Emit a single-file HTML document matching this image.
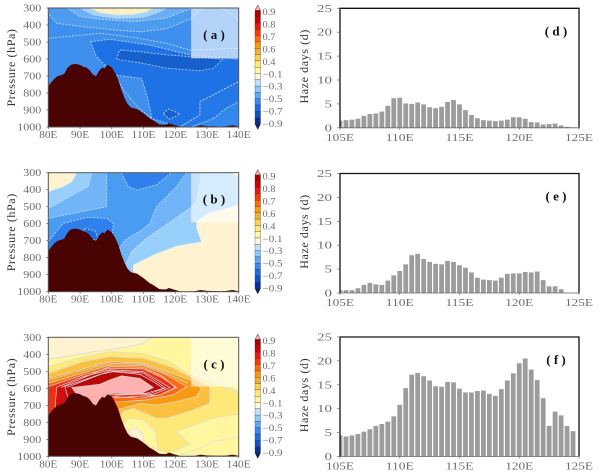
<!DOCTYPE html>
<html>
<head>
<meta charset="utf-8">
<title>Pressure cross-sections and haze days</title>
<style>
html,body{margin:0;padding:0;background:#fff;width:600px;height:475px;overflow:hidden}
svg{display:block;filter:blur(0.3px)}
text{font-family:"Liberation Serif",serif;fill:#6c6c6c}
.ttl{font-family:"Liberation Serif",serif;fill:#333;font-size:12px;letter-spacing:.6px}
.tag{font-family:"Liberation Serif",serif;fill:#111;font-size:13px;font-weight:bold}
</style>
</head>
<body>
<svg id="chart" xmlns="http://www.w3.org/2000/svg" width="600" height="475" viewBox="0 0 600 475"></svg>
<script>
const pressureTicks = [300,400,500,600,700,800,900,1000];
const lonTicksLeft = [80,90,100,110,120,130,140];
const lonTicksRight = [105,110,115,120,125];
const hazeTicks = [0,5,10,15,20,25];
const barLons = [105,105.5,106,106.5,107,107.5,108,108.5,109,109.5,110,110.5,111,111.5,112,112.5,113,113.5,114,114.5,115,115.5,116,116.5,117,117.5,118,118.5,119,119.5,120,120.5,121,121.5,122,122.5,123,123.5,124,124.5];
const hazeD = [1.5,1.6,1.7,1.9,2.5,2.9,3.0,3.4,4.6,6.2,6.3,5.1,5.0,5.3,4.9,4.3,4.1,4.4,5.4,5.8,4.9,3.7,2.7,2.0,1.6,1.5,1.4,1.5,1.7,2.2,2.2,1.9,1.2,1.1,0.7,0.8,0.9,0.5,0.2,0.1];
const hazeE = [0.6,0.6,0.6,1.0,1.7,2.1,1.8,1.7,2.6,3.7,4.6,6.0,7.9,8.2,7.1,6.5,6.1,6.0,6.7,6.5,5.8,5.3,4.3,3.2,2.8,2.7,2.6,3.2,4.0,4.1,4.1,4.4,4.3,4.5,2.7,1.4,1.4,0.8,0.1,0];
const hazeF = [4.4,4.2,4.4,4.7,5.2,5.7,6.4,6.8,7.3,8.4,10.8,14.3,17.1,17.5,16.8,15.9,14.7,14.6,15.6,15.5,14.2,13.4,13.4,13.7,13.8,13.1,12.7,14.1,15.9,17.4,19.5,20.5,18.2,16.0,12.2,6.4,9.4,8.6,6.4,5.3];
const colorbarLabels = ["0.9","0.8","0.7","0.6","0.4","\u22120.1","\u22120.3","\u22120.5","\u22120.7","\u22120.9"];
const colorbarColors = ["#a80000","#cc0000","#e81810","#f83808","#ff6a08","#fb9a08","#f0b030","#fbd050","#fde878","#fff7a0","#fdf8e0","#bfe0ff","#8cc8fa","#5ca8f5","#3888ee","#1c6ce4","#1050c8","#083098"];
const terrain = [[80,760],[81,735],[82,715],[83,700],[84,695],[85,688],[86,655],[87,635],[88,630],[89,630],[90,635],[91,645],[92,650],[93,665],[94,690],[95,702],[96,670],[97,650],[97.7,656],[98.7,635],[100,650],[101,680],[102,720],[103,780],[104,830],[105,865],[106,885],[108,895],[110,920],[112,950],[113,960],[115,985],[117,987],[118,978],[120,990],[122,1000],[126,998],[128,990],[130,995],[132,996],[134,997],[136,996],[138,990],[140,997],[140,1000],[80,1000]];

const regionsA = [
 {fill:"#4e9cf0",pts:[[80,300],[80,331],[82.6,390],[91,410],[101.5,430],[109,440],[117.3,422],[124.6,365],[128.8,300]]},
 {fill:"#6aaef5",pts:[[86,300],[90,350],[96,365],[107,380],[117,360],[124,310],[125,300]]},
 {fill:"#a4d4fb",pts:[[90,300],[94.2,341],[101.5,361],[110,355],[115.2,322],[117.3,300]]},
 {fill:"#fdf0c0",pts:[[93.1,300],[96.3,327],[101.5,341],[106.8,337],[111,322],[113,300]]},
 {fill:"#1f72e6",pts:[[93.3,498],[99.4,484],[112,518],[124.6,576],[140,602],[140,733],[127.8,851],[127.8,929],[121.5,1000],[112.6,950],[111.5,841],[109.4,714],[101,694],[95.2,586]]},
 {fill:"#2678e8",pts:[[127.8,851],[140,733],[140,1000],[121.5,1000],[127.8,929]]},
 {fill:"#338aec",pts:[[132,950],[136,890],[140,850],[140,1000],[125,1000]]},
 {fill:"#1560cc",pts:[[101.5,602],[102.5,547],[108.8,557],[117.3,576],[124.6,586],[135,602],[132,655],[127.8,669],[117.3,655],[108.8,622]]},
 {fill:"#1560cc",pts:[[116.2,923],[117.8,894],[121.5,923],[118.3,955]]}
];
const linesA = [
 [[80,478],[91,459],[96.3,449],[106.8,472],[117.3,508],[124.6,547],[140,537]],
 [[135,300],[140,370]],
 [[101,694],[104,790],[108,880],[112.6,950]]
];
const regionsB = [
 {fill:"#72b4f8",pts:[[80,300],[98.4,300],[98.4,500],[80,568]]},
 {fill:"#98d0fb",pts:[[80,300],[93.7,300],[92.6,382],[80,510]]},
 {fill:"#fdf3d0",pts:[[80,300],[89,300],[87.4,353],[84.7,382],[80,412]]},
 {fill:"#2f80ec",pts:[[103,300],[105.2,382],[107.9,402],[114,372],[118.8,300]]},
 {fill:"#2f80ec",pts:[[80,705],[84.7,598],[92,563],[98.4,568],[100.5,598],[100,685],[100,800],[80,800]]},
 {fill:"#1c6ce0",pts:[[91.5,627],[94.7,641],[95.8,695],[90,690]]},
 {fill:"#72b4f8",pts:[[123.6,300],[120.4,382],[114.1,500],[112,598],[109.4,637],[104.2,696],[102.4,745],[104.2,853],[106.3,763],[111,685],[119.4,578],[126.7,480],[128.3,300]]},
 {fill:"#98d0fb",pts:[[128.3,300],[140,300],[140,1000],[106,1000],[104.2,853],[106.3,763],[111,685],[119.4,578],[126.7,480]]},
 {fill:"#fdf3d0",pts:[[106.8,843],[113.1,784],[120.4,731],[128.3,706],[126.7,627],[126.7,588],[130.4,539],[140,490],[140,1000],[106.8,1000]]},
 {fill:"#fdf3d0",pts:[[137.5,300],[140,322],[140,300]]}
];
const linesB = [];
const regionsC = [
 {fill:"#fdf3d0",pts:[[80,300],[112.6,300],[110,335],[104.8,359],[96.3,380],[80,430]]},
 {fill:"#fde878",pts:[[80,472],[91,414],[99.4,384],[109.9,394],[118.3,443],[124.6,521],[140,623],[140,753],[131.9,776],[120.4,855],[124.6,929],[118.3,982],[114.1,962],[112,835],[105.2,776],[103.6,815],[100,700],[80,700]]},
 {fill:"#fff7a0",pts:[[103.6,815],[105.2,776],[109.9,786],[113.6,845],[114.6,962],[108.9,913],[104.7,845]]},
 {fill:"#fdf3d0",pts:[[105.2,850],[107.9,830],[110,874],[110,913],[106.3,884]]},
 {fill:"#fff7a0",pts:[[140,885],[132,913],[126.7,962],[121.5,992],[140,1000]]},
 {fill:"#fbc040",pts:[[80,512],[91,443],[99.4,414],[109.9,423],[118.3,472],[124.6,531],[130.9,590],[130.9,688],[125.7,727],[117.3,776],[114.1,776],[106.8,717],[103.6,737],[102.4,776],[90,760],[80,760]]},
 {fill:"#f89a10",pts:[[80,541],[99.4,443],[109.9,453],[117.3,502],[124.6,551],[128.3,600],[126.7,649],[119.4,682],[114.1,698],[108.9,688],[101.5,727],[90,760],[80,760]]},
 {fill:"#ff6a10",pts:[[80,570],[99.4,463],[109.9,467],[117.3,521],[123.6,590],[119.4,639],[111,668],[100.9,682],[90,740],[80,760]]},
 {fill:"#f03010",pts:[[80,590],[91,521],[99.4,482],[109.9,486],[116.2,541],[120.4,596],[115.2,639],[108.9,659],[100.5,649],[88,700],[80,760]]},
 {fill:"#d01010",pts:[[82.6,594],[91,531],[99.4,492],[109.9,502],[115.2,561],[118.3,596],[113.1,635],[100.5,635],[86,680],[82.1,727]]},
 {fill:"#b80808",pts:[[85.2,590],[96.3,518],[100.5,502],[108.9,518],[113.1,561],[116.2,600],[110.9,629],[100.5,629],[86.5,670]]},
 {fill:"#ffb0b0",pts:[[87.4,596],[96.3,576],[99.4,551],[103.1,527],[108.9,541],[113.1,596],[108.9,633],[100,629],[98.4,639],[96.3,698],[94.7,698],[91,659],[88.9,633]]}
];
const linesC = [
 [[80,430],[96.3,380],[104.8,359],[110,335],[112.6,300]],
 [[124.6,470],[131,540],[140,623]],
 [[80,550],[99.4,453],[109.9,458],[117.3,512],[124,570]],
 [[84,594],[99.4,472],[109.9,476],[116,530],[120,596],[115,640],[101,655]],
 [[86,594],[99.4,497],[109.9,510],[114,560],[117,597],[112,632],[101,640]]
];

const NS = "http://www.w3.org/2000/svg";
const svg = document.getElementById("chart");
function mk(tag, attrs, parent){
  const el = document.createElementNS(NS, tag);
  for (const k in attrs) el.setAttribute(k, attrs[k]);
  (parent || svg).appendChild(el);
  return el;
}
function label(x, y, str, anchor, size, parent, name, len){
  const t = mk("text", {x:x, y:y, "text-anchor":anchor, "font-size":size}, parent);
  t.textContent = str;
  
  
  if (len) {
    t.setAttribute("textLength", len);
    t.setAttribute("lengthAdjust", "spacingAndGlyphs");
  }
  return t;
}
function drawColorbar(id, top){
  const g = mk("g", {});
  
  
  const h = 6.3, x0 = 255, w = 5.5, y0 = top + 5.5;
  const up = mk("polygon", {points:`${x0},${y0} ${x0+w/2},${top} ${x0+w},${y0}`, fill:"#ffb0b0", stroke:"#333", "stroke-width":.5}, g);
  
  
  colorbarColors.forEach((c, i) => {
    const r = mk("rect", {x:x0, y:y0 + i*h, width:w, height:h, fill:c, stroke:"#333", "stroke-width":.3}, g);
    
    
  });
  const yEnd = y0 + colorbarColors.length*h;
  const down = mk("polygon", {points:`${x0},${yEnd} ${x0+w/2},${yEnd+5.5} ${x0+w},${yEnd}`, fill:"#002070", stroke:"#333", "stroke-width":.5}, g);
  
  
  colorbarLabels.forEach((s, i) => {
    const neg = s.charAt(0) === "\u2212";
    label(262.5, top + 10 + i*12.45, s, "start", 9, g, 'colorbar-label', neg ? 20 : 13);
  });
}
function drawSection(id, top, base, regions, lines, dashed, boxBottom, boxAlpha, tag){
  const L = 48.3, R = 238.7, H = 119;
  const xs = lon => L + (lon - 80) / 60 * (R - L);
  const ys = p => top + (p - 300) / 700 * H;
  const pts = a => a.map(q => xs(q[0]).toFixed(1) + "," + ys(q[1]).toFixed(1)).join(" ");
  const g = mk("g", {});
  
  
  const clip = mk("clipPath", {id:"clip" + id}, g);
  mk("rect", {x:L, y:top, width:R-L, height:H}, clip);
  const plot = mk("g", {"clip-path":`url(#clip${id})`}, g);
  const bg = mk("rect", {x:L, y:top, width:R-L, height:H, fill:base}, plot);
  
  
  const lineStyle = dashed
    ? {stroke:"#e4eefc", "stroke-width":.8, "stroke-dasharray":"2 1.4", "stroke-opacity":.8}
    : {stroke:"#dcdcdc", "stroke-width":.7};
  regions.forEach(r => {
    const poly = mk("polygon", Object.assign({points:pts(r.pts), fill:r.fill}, lineStyle), plot);
    
    
  });
  lines.forEach(a => {
    const pl = mk("polyline", Object.assign({points:pts(a), fill:"none"}, lineStyle), plot);
    
    
  });
  const box = mk("rect", {x:xs(125), y:top, width:xs(140)-xs(125), height:ys(boxBottom)-top, fill:"#fff", "fill-opacity":boxAlpha}, plot);
  
  
  const ter = mk("polygon", {points:pts(terrain), fill:"#4a0303"}, plot);
  
  
  const fr = mk("rect", {x:L, y:top, width:R-L, height:H, fill:"none", stroke:"#555", "stroke-width":1}, g);
  
  
  pressureTicks.forEach(p => {
    mk("line", {x1:L-2, x2:L, y1:ys(p), y2:ys(p), stroke:"#555", "stroke-width":.7}, g);
    label(L - 7, ys(p) + 3.5, String(p), "end", 10.5, g, 'pressure-tick-label', String(p).length*6);
  });
  lonTicksLeft.forEach(lon => {
    mk("line", {x1:xs(lon), x2:xs(lon), y1:top+H, y2:top+H+2, stroke:"#555", "stroke-width":.7}, g);
    label(xs(lon), top + H + 11, lon + "E", "middle", 10.5, g, 'longitude-tick-label', (String(lon).length + 1)*6);
  });
  const ty = top + H/2;
  const t = label(0, 0, "Pressure (hPa)", "middle", 12, g, 'y-axis-title');
  t.setAttribute("class", "ttl");
  t.setAttribute("transform", `translate(15,${ty}) rotate(-90)`);
  const tg = label(214, top + 31, "( " + tag + " )", "middle", 13, g, 'panel-label-' + tag);
  tg.setAttribute("class", "tag");
}
function drawBars(id, top, values, tag){
  const L = 340, R = 579, H = 119.5;
  const xs = lon => L + (lon - 105) / 20 * (R - L);
  const ys = v => top + H - v / 25 * H;
  const g = mk("g", {});
  
  
  const clip = mk("clipPath", {id:"clipb" + id}, g);
  mk("rect", {x:L, y:top, width:R-L, height:H}, clip);
  const plot = mk("g", {"clip-path":`url(#clipb${id})`}, g);
  const w = (xs(105.5) - xs(105)) * .8;
  values.forEach((v, i) => {
    const b = mk("rect", {x:xs(barLons[i]) - w/2, y:ys(v), width:w, height:top + H - ys(v), fill:"#9c9c9c"}, plot);
    
    
  });
  const fr = mk("path", {d:`M${L},${top+H} V${top} H${R} V${top+H}`, fill:"none", stroke:"#111", "stroke-width":1.3}, g);
  
  
  const bl = mk("line", {x1:L, x2:R, y1:top+H, y2:top+H, stroke:"#666", "stroke-width":.8}, g);
  
  
  hazeTicks.forEach(v => {
    mk("line", {x1:L-3, x2:L, y1:ys(v), y2:ys(v), stroke:"#666", "stroke-width":.7}, g);
    label(L - 8, ys(v) + 3.5, String(v), "end", 11, g, 'haze-tick-label', String(v).length*7.5);
  });
  lonTicksRight.forEach(lon => {
    mk("line", {x1:xs(lon), x2:xs(lon), y1:top+H, y2:top+H+2, stroke:"#666", "stroke-width":.7}, g);
    label(xs(lon), top + H + 13, lon + "E", "middle", 11, g, 'longitude-tick-label', 28);
  });
  const t = label(0, 0, "Haze days (d)", "middle", 12, g, 'y-axis-title');
  t.setAttribute("class", "ttl");
  t.setAttribute("transform", `translate(308,${top + 58}) rotate(-90)`);
  const tg = label(556, top + 27, "( " + tag + " )", "middle", 13, g, 'panel-label-' + tag);
  tg.setAttribute("class", "tag");
}
drawSection("a", 8, "#3f90ee", regionsA, linesA, true, 596, .6, "a");
drawSection("b", 172.7, "#4a9cf2", regionsB, linesB, true, 592, .6, "b");
drawSection("c", 337.3, "#fff7a0", regionsC, linesC, false, 590, .55, "c");
drawColorbar("a", 5);
drawColorbar("b", 169.5);
drawColorbar("c", 334);
drawBars("d", 8.3, hazeD, "d");
drawBars("e", 173.5, hazeE, "e");
drawBars("f", 337, hazeF, "f");
</script>
</body>
</html>
